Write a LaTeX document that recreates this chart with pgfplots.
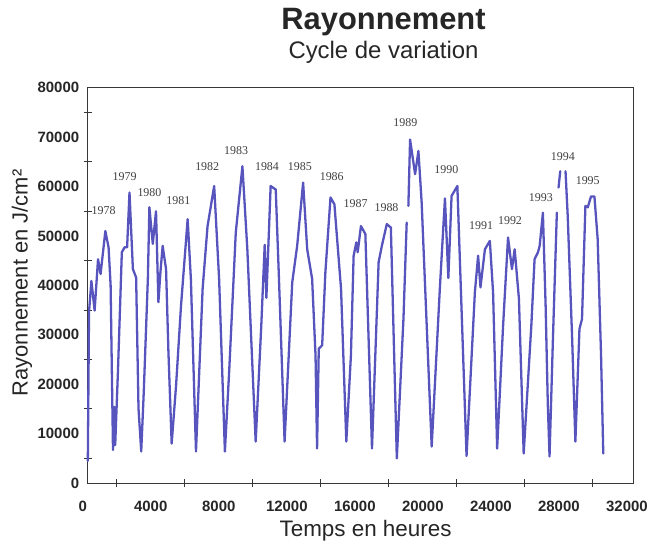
\documentclass[border=0pt]{standalone}
\usepackage{fontspec}
\setmainfont{Liberation Sans}
\newfontfamily\serifyear{Liberation Serif}
\usepackage{pgfplots}
\pgfplotsset{compat=1.18}
\definecolor{linecol}{RGB}{88,84,190}
\definecolor{axcol}{RGB}{55,55,55}
\begin{document}
\begin{tikzpicture}
\begin{axis}[name=ax, scale only axis, width=548pt, height=397pt,
 xmin=290, xmax=32390, ymin=0, ymax=80000,
 axis line style={axcol, line width=1.1pt},
 xtick={4000,8000,...,32000}, ytick={0,10000,...,80000},
 minor xtick={2000,6000,...,30000}, minor ytick={5000,15000,...,75000},
 xtick pos=bottom, ytick pos=left,
 major tick length=0pt, minor tick length=8pt, tick align=center,
 tick style={axcol, line width=1pt},
 /pgf/number format/1000 sep={}, /pgf/number format/assume math mode=true,
 scaled ticks=false,
 ticklabel style={font=\bfseries\fontsize{15}{15}\selectfont, text=black!85},
 xticklabel style={yshift=-14pt},
 yticklabel style={xshift=-5pt},
 clip=false, unbounded coords=jump]
\addplot[linecol, line width=2.3pt, line join=round, line cap=round, mark=none] table {
x y
300 4500
370 34600
510 40900
700 34900
900 45300
1050 42300
1330 51000
1520 47700
1640 40000
1780 6700
1870 15400
1910 7700
2070 22500
2300 46700
2460 47700
2610 47700
2750 58800
2950 43300
3140 41600
3280 15100
3440 6400
3590 18500
3830 41300
3920 55800
4120 48400
4310 55000
4450 36600
4570 42700
4700 48000
4900 43300
5040 26500
5230 8000
5490 19800
5780 35900
6170 53400
6360 41300
6660 6400
7050 39300
7340 52000
7730 60100
8020 41300
8360 6400
8610 22500
9000 50700
9390 64100
9680 47300
10170 8400
10500 31900
10700 48200
10800 37500
11050 60100
11350 59400
11540 41300
11870 8400
12320 40600
12610 48000
12960 60800
13200 47300
13490 41300
13690 25800
13780 7000
13880 27200
14080 27900
14270 42700
14570 57800
14800 56400
15190 39300
15500 8400
15770 25800
15930 46000
16090 48700
16170 46700
16360 52000
16620 50400
17010 7000
17400 44700
17590 48000
17880 52400
18120 51700
18470 5000
18860 33200
19050 52700
19100 nan
19150 56100
19250 69500
19545 62500
19740 67200
19930 56800
20520 7400
21010 40000
21300 57600
21500 41500
21690 58100
22030 60100
22570 5500
23060 38600
23250 46000
23390 39600
23650 47300
23940 49000
24130 38600
24370 7000
24720 31900
25010 49700
25240 43300
25400 47300
25650 37300
25930 6000
26380 31900
26570 45300
26770 46700
26870 48000
27060 54700
27220 35900
27350 15800
27450 5400
27650 29200
27880 54700
27930 nan
27980 59800
28080 63100
28200 nan
28390 63100
28520 54000
28780 29200
28970 8400
29210 31200
29360 33200
29560 56100
29700 55800
29890 58000
30090 58000
30280 49400
30480 25800
30610 6000
};
\addplot[draw=none, mark=none, nodes near coords, point meta=explicit symbolic,
 nodes near coords style={anchor=center, font=\serifyear\fontsize{12}{12}\selectfont, text=black!75}]
 table[meta=lab] {
x y lab
1230 55210 1978
2460 62060 1979
3924 58840 1980
5623 57230 1981
7321 64080 1982
9020 67300 1983
10835 64080 1984
12768 64080 1985
14643 62060 1986
16048 56620 1987
17864 55820 1988
18977 72940 1989
21378 63470 1990
23428 52190 1991
25126 53200 1992
26942 57830 1993
28231 66090 1994
29696 61260 1995
};
\node[anchor=north, yshift=-14pt, inner sep=0.3333em, font=\bfseries\fontsize{15}{15}\selectfont, text=black!85] at (axis cs:0,0) {0};
\end{axis}
\path ([shift={(-88pt,-63pt)}]ax.south west) rectangle ([shift={(563pt,485pt)}]ax.south west);
\node[anchor=base, font=\bfseries\fontsize{31}{31}\selectfont, text=black!85] at ([shift={(297pt,455pt)}]ax.south west) {Rayonnement};
\node[anchor=base, font=\fontsize{24}{24}\selectfont, text=black!85] at ([shift={(297pt,426pt)}]ax.south west) {Cycle de variation};
\node[anchor=base, font=\fontsize{22.5}{22.5}\selectfont, text=black!85] at ([shift={(279pt,-54pt)}]ax.south west) {Temps en heures};
\node[rotate=90, anchor=center, font=\fontsize{22}{22}\selectfont, text=black!85] at ([shift={(-66pt,201pt)}]ax.south west) {Rayonnement en J/cm²};
\end{tikzpicture}
\end{document}
